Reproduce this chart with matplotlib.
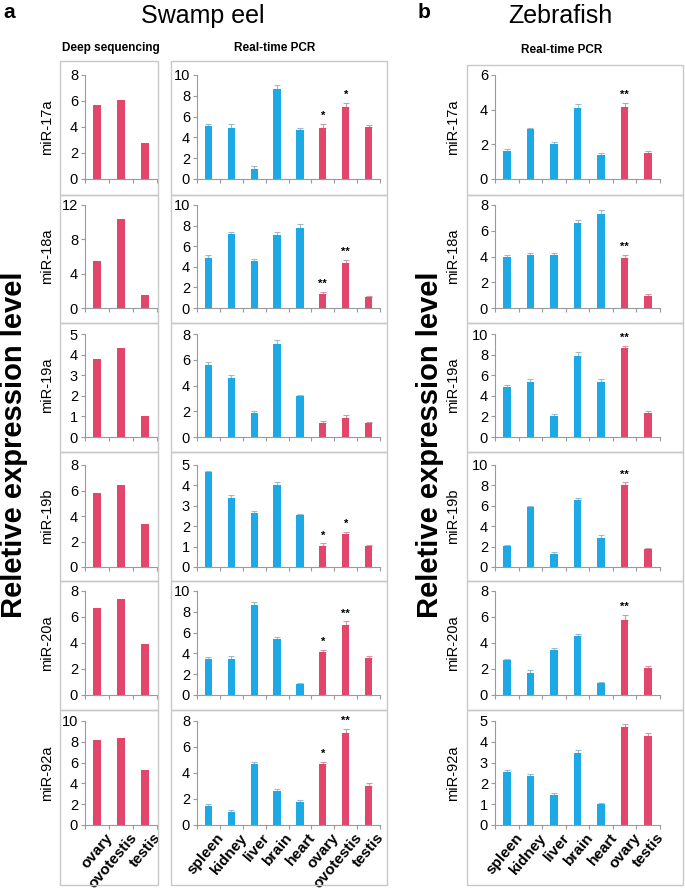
import matplotlib
matplotlib.use("Agg")
import matplotlib.pyplot as plt
from matplotlib.patches import Rectangle
from matplotlib.transforms import ScaledTranslation

plt.rcParams['font.family'] = ['Liberation Sans', 'DejaVu Sans']

W, H = 685, 890
BLUE = '#1DA9E6'
RED = '#E2466B'
AXIS_GRAY = '#9a9a9a'
BOX_GRAY = '#c8c8c8'

mirnas = ['miR-17a', 'miR-18a', 'miR-19a', 'miR-19b', 'miR-20a', 'miR-92a']

# swamp eel, deep sequencing
seq_tissues = ['ovary', 'ovotestis', 'testis']
seq_values = [
    [5.7, 6.1, 2.8],
    [5.5, 10.4, 1.5],
    [3.8, 4.3, 1.0],
    [5.8, 6.4, 3.4],
    [6.7, 7.4, 3.9],
    [8.2, 8.4, 5.3],
]
seq_ymax = [8, 12, 5, 8, 8, 10]
seq_step = [2, 4, 1, 2, 2, 2]

# swamp eel, real-time PCR
eel_tissues = ['spleen', 'kidney', 'liver', 'brain', 'heart', 'ovary', 'ovotestis', 'testis']
eel_values = [
    [5.1, 4.95, 1.0, 8.7, 4.7, 4.95, 6.95, 5.0],
    [4.9, 7.15, 4.6, 7.1, 7.8, 1.4, 4.4, 1.05],
    [5.6, 4.6, 1.9, 7.2, 3.15, 1.1, 1.5, 1.05],
    [4.65, 3.4, 2.65, 4.03, 2.53, 1.05, 1.6, 1.02],
    [3.45, 3.5, 8.7, 5.35, 1.02, 4.1, 6.7, 3.6],
    [1.45, 1.0, 4.68, 2.65, 1.75, 4.68, 7.1, 3.0],
]
eel_errors = [
    [0.2, 0.35, 0.25, 0.35, 0.25, 0.35, 0.35, 0.2],
    [0.2, 0.25, 0.15, 0.25, 0.4, 0.2, 0.3, 0.1],
    [0.2, 0.2, 0.15, 0.3, 0.15, 0.15, 0.2, 0.1],
    [0.07, 0.15, 0.1, 0.15, 0.07, 0.12, 0.12, 0.07],
    [0.2, 0.25, 0.2, 0.2, 0.1, 0.25, 0.4, 0.15],
    [0.2, 0.15, 0.2, 0.15, 0.2, 0.2, 0.3, 0.2],
]
eel_stars = [
    ['', '', '', '', '', '*', '*', ''],
    ['', '', '', '', '', '**', '**', ''],
    ['', '', '', '', '', '', '', ''],
    ['', '', '', '', '', '*', '*', ''],
    ['', '', '', '', '', '*', '**', ''],
    ['', '', '', '', '', '*', '**', ''],
]
eel_ymax = [10, 10, 8, 5, 10, 8]
eel_step = [2, 2, 2, 1, 2, 2]

# zebrafish, real-time PCR
zf_tissues = ['spleen', 'kidney', 'liver', 'brain', 'heart', 'ovary', 'testis']
zf_values = [
    [1.6, 2.86, 2.0, 4.1, 1.37, 4.18, 1.5],
    [3.96, 4.1, 4.1, 6.64, 7.29, 3.9, 0.96],
    [4.87, 5.3, 2.05, 7.9, 5.3, 8.6, 2.3],
    [2.05, 5.84, 1.3, 6.59, 2.86, 8.0, 1.72],
    [2.66, 1.73, 3.43, 4.52, 0.92, 5.8, 2.06],
    [2.53, 2.35, 1.44, 3.45, 0.99, 4.71, 4.29],
]
zf_errors = [
    [0.15, 0.1, 0.15, 0.2, 0.15, 0.2, 0.12],
    [0.15, 0.2, 0.2, 0.2, 0.3, 0.25, 0.15],
    [0.2, 0.3, 0.15, 0.4, 0.3, 0.25, 0.25],
    [0.15, 0.15, 0.2, 0.15, 0.3, 0.3, 0.15],
    [0.12, 0.2, 0.2, 0.15, 0.1, 0.35, 0.15],
    [0.1, 0.1, 0.1, 0.15, 0.05, 0.15, 0.15],
]
zf_stars = [
    ['', '', '', '', '', '**', ''],
    ['', '', '', '', '', '**', ''],
    ['', '', '', '', '', '**', ''],
    ['', '', '', '', '', '**', ''],
    ['', '', '', '', '', '**', ''],
    ['', '', '', '', '', '', ''],
]
zf_ymax = [6, 8, 10, 10, 8, 5]
zf_step = [2, 2, 2, 2, 2, 1]

# layout in pixels
row_axes = [(75, 179), (205, 308), (334, 437), (465, 567), (591, 695), (721, 825)]
row_boxes = [(61, 195), (195, 323), (323, 452), (452, 581), (581, 710), (710, 885)]
col_axes = {'seq': (85, 157), 'eel': (197, 380), 'zf': (495, 660)}
col_boxes = {'seq': (60, 158), 'eel': (171, 387), 'zf': (467, 683)}

fig = plt.figure(figsize=(W / 100, H / 100), dpi=100)


def fx(px):
    return px / W


def fy(py):
    return 1 - py / H


def panel(col, row, labels, vals, errs, stars, ymax, step, n_blue):
    x0, x1 = col_axes[col]
    yt, yb = row_axes[row]
    ax = fig.add_axes([fx(x0), fy(yb), (x1 - x0) / W, (yb - yt) / H])
    n = len(vals)
    colors = [BLUE] * n_blue + [RED] * (n - n_blue)
    ax.bar(range(n), vals, width=0.32, color=colors, zorder=2)
    if errs is not None:
        for i in range(n):
            ec = '#9db9cc' if i < n_blue else '#d19aa8'
            ax.errorbar(i, vals[i], yerr=[[0], [errs[i]]], fmt='none', ecolor=ec,
                        elinewidth=0.8, capsize=2.5, capthick=0.8, zorder=1)
            if stars[i]:
                ax.annotate(stars[i], (i, vals[i] + errs[i]), xytext=(0, 2),
                            textcoords='offset points', ha='center', va='bottom',
                            fontsize=8, fontweight='bold')
    ax.set_xlim(-0.5, n - 0.5)
    ax.set_ylim(0, ymax)
    ax.set_yticks(range(0, ymax + 1, step))
    ax.set_xticks([i - 0.5 for i in range(n + 1)])
    ax.set_xticklabels([])
    ax.tick_params(axis='both', which='major', length=3, width=0.8, color=AXIS_GRAY,
                   labelsize=10.5, pad=2)
    for s in ['top', 'right']:
        ax.spines[s].set_visible(False)
    for s in ['left', 'bottom']:
        ax.spines[s].set_color(AXIS_GRAY)
        ax.spines[s].set_linewidth(0.8)
    if row == len(row_axes) - 1:
        ax.set_xticks(range(n), minor=True)
        ax.set_xticklabels(labels, minor=True, rotation=50, ha='right',
                           rotation_mode='anchor', fontweight='bold', fontsize=11)
        ax.tick_params(axis='x', which='minor', length=0, pad=4)
        shift = ScaledTranslation(8 / 100, 0, fig.dpi_scale_trans)
        for lab in ax.get_xticklabels(minor=True):
            lab.set_transform(lab.get_transform() + shift)
    return ax


for r in range(6):
    panel('seq', r, seq_tissues, seq_values[r], None, None, seq_ymax[r], seq_step[r], 0)
    panel('eel', r, eel_tissues, eel_values[r], eel_errors[r], eel_stars[r],
          eel_ymax[r], eel_step[r], 5)
    panel('zf', r, zf_tissues, zf_values[r], zf_errors[r], zf_stars[r],
          zf_ymax[r], zf_step[r], 5)
    yc = (row_axes[r][0] + row_axes[r][1]) / 2
    fig.text(fx(47), fy(yc), mirnas[r], rotation=90, ha='center', va='center', fontsize=10.5)
    fig.text(fx(453), fy(yc), mirnas[r], rotation=90, ha='center', va='center', fontsize=10.5)

# panel boxes
for col, (bx0, bx1) in col_boxes.items():
    for r, (by0, by1) in enumerate(row_boxes):
        if col == 'zf' and r == 0:
            by0 = 65
        fig.add_artist(Rectangle((fx(bx0), fy(by1)), (bx1 - bx0) / W, (by1 - by0) / H,
                                 transform=fig.transFigure, fill=False,
                                 edgecolor=BOX_GRAY, linewidth=1))

# titles
fig.text(fx(3), fy(12), 'a', fontsize=15, fontweight='bold', ha='left', va='center')
fig.text(fx(203), fy(16), 'Swamp eel', fontsize=18, ha='center', va='center')
fig.text(fx(418), fy(12), 'b', fontsize=15, fontweight='bold', ha='left', va='center')
fig.text(fx(560), fy(16), 'Zebrafish', fontsize=18, ha='center', va='center')
fig.text(fx(111), fy(48), 'Deep sequencing', fontsize=8.5, fontweight='bold', ha='center', va='center')
fig.text(fx(275), fy(48), 'Real-time PCR', fontsize=8.5, fontweight='bold', ha='center', va='center')
fig.text(fx(562), fy(50), 'Real-time PCR', fontsize=8.5, fontweight='bold', ha='center', va='center')

fig.text(fx(14), fy(445), 'Reletive expression level', rotation=90, fontsize=21,
         fontweight='bold', ha='center', va='center')
fig.text(fx(430), fy(445), 'Reletive expression level', rotation=90, fontsize=21,
         fontweight='bold', ha='center', va='center')

fig.savefig('out.png', dpi=100)
